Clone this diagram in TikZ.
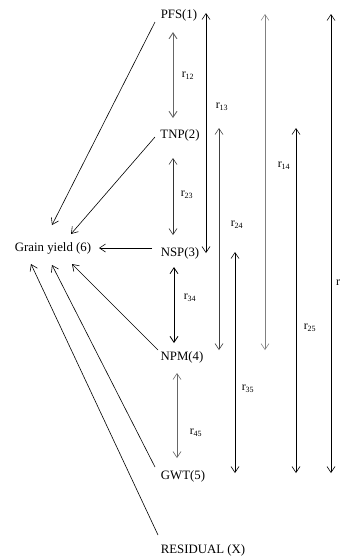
\documentclass[tikz,border=0pt]{standalone}
\usepackage{fontspec}
\setmainfont{Liberation Serif}
\usetikzlibrary{arrows.meta}
\tikzset{
  var/.style={inner sep=0pt, font=\fontsize{12.8}{14}\selectfont},
  rlab/.style={inner sep=0pt, font=\fontsize{12}{14}\selectfont},
  arr/.style={-{Straight Barb[length=6pt,width=8pt]}, line width=0.6pt},
  darr/.style={{Straight Barb[length=6pt,width=8pt]}-{Straight Barb[length=6pt,width=8pt]}, line width=0.6pt},
  soft/.style={draw=black!60},
  faint/.style={draw=black!50, line width=0.5pt}
}
\begin{document}
\begin{tikzpicture}[x=1pt,y=-1pt]
\useasboundingbox (0,0) rectangle (341,558);

% variables
\node[var] (pfs) at (179,15) {PFS(1)};
\node[var] (tnp) at (180,135) {TNP(2)};
\node[var] (nsp) at (180,253) {NSP(3)};
\node[var] (npm) at (182,357) {NPM(4)};
\node[var] (gwt) at (183,476) {GWT(5)};
\node[var] (res) at (203,550) {RESIDUAL (X)};
\node[var] (gy)  at (53,248) {Grain yield (6)};

% path arrows into grain yield
\coordinate (p1) at (155,22);  \coordinate (g1) at (52,225);
\coordinate (p2) at (155,137); \coordinate (g2) at (71,234);
\coordinate (p3) at (152,248); \coordinate (g3) at (99,248);
\coordinate (p4) at (158,350); \coordinate (g4) at (72,264);
\coordinate (p5) at (155,467); \coordinate (g5) at (52,265);
\coordinate (p6) at (158,535); \coordinate (g6) at (31,264);
\draw[arr] (p1) -- (g1);
\draw[arr] (p2) -- (g2);
\draw[arr] (p3) -- (g3);
\draw[arr] (p4) -- (g4);
\draw[arr] (p5) -- (g5);
\draw[arr] (p6) -- (g6);

% correlations between neighbouring variables
\coordinate (a12) at (173,32);  \coordinate (b12) at (173,118);
\coordinate (a23) at (173,158); \coordinate (b23) at (173,235);
\coordinate (a34) at (174,267); \coordinate (b34) at (174,343);
\coordinate (a45) at (177,373); \coordinate (b45) at (177,458);
\draw[darr, soft, line width=0.9pt] (a12) -- (b12);
\draw[darr, draw=black!80] (a23) -- (b23);
\draw[darr, line width=0.8pt] (a34) -- (b34);
\draw[darr, soft] (a45) -- (b45);
\node[rlab] (l12) at (188,76) {r\textsubscript{12}};
\node[rlab] (l23) at (187,195) {r\textsubscript{23}};
\node[rlab] (l34) at (190,298) {r\textsubscript{34}};
\node[rlab] (l45) at (196,433) {r\textsubscript{45}};

% correlations spanning several variables
\coordinate (a13) at (206,13);  \coordinate (b13) at (206,253);
\coordinate (a24) at (219,128); \coordinate (b24) at (219,350);
\coordinate (a35) at (235,252); \coordinate (b35) at (235,473);
\coordinate (a14) at (265,14);  \coordinate (b14) at (265,350);
\coordinate (a25) at (296,128); \coordinate (b25) at (296,473);
\coordinate (a15) at (331,14);  \coordinate (b15) at (331,473);
\draw[darr] (a13) -- (b13);
\draw[darr, draw=black!75] (a24) -- (b24);
\draw[darr] (a35) -- (b35);
\draw[darr, faint] (a14) -- (b14);
\draw[darr] (a25) -- (b25);
\draw[darr] (a15) -- (b15);
\node[rlab] (l13) at (222,107) {r\textsubscript{13}};
\node[rlab] (l24) at (237,225) {r\textsubscript{24}};
\node[rlab] (l35) at (248,389) {r\textsubscript{35}};
\node[rlab] (l14) at (284,166) {r\textsubscript{14}};
\node[rlab] (l25) at (310,328) {r\textsubscript{25}};
\node[rlab, anchor=west] (l15) at (336,283) {r};
\end{tikzpicture}
\end{document}
